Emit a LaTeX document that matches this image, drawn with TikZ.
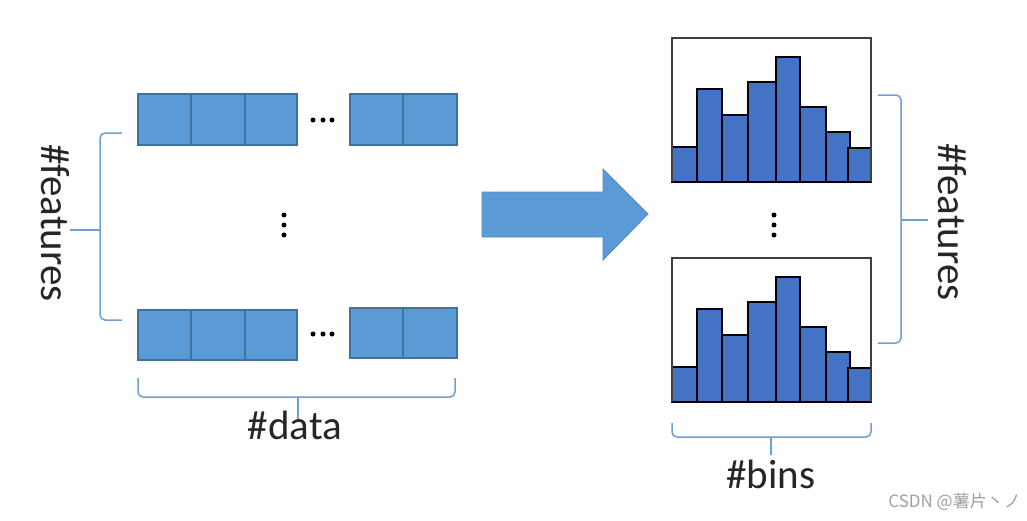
\documentclass[tikz,border=0pt]{standalone}
\usepackage{fontspec}
\setmainfont{Carlito}
\newfontfamily\cjkfont{Noto Sans CJK SC}
\definecolor{cellblue}{HTML}{5B9BD5}
\definecolor{celledge}{HTML}{41719C}
\definecolor{barblue}{HTML}{4472C4}
\definecolor{bracecol}{HTML}{6FA0D2}
\definecolor{wmgray}{HTML}{A0A0A0}
\tikzset{
  cellbox/.style={fill=cellblue, draw=celledge, line width=1.2pt},
  barbox/.style={fill=barblue, draw=black, line width=2.2pt},
  framebox/.style={draw=black!75, line width=1.6pt},
  bracket/.style={draw=bracecol, line width=1.5pt, rounded corners=5pt},
  dotmark/.style={fill=black, circle, inner sep=0pt, minimum size=5pt},
  bigtext/.style={font=\fontsize{41}{49}\selectfont, inner sep=0pt, text=black!85},
}
\begin{document}
\begin{tikzpicture}[x=1pt,y=-1pt]
\useasboundingbox (0,0) rectangle (1027,520);
\fill[white] (0,0) rectangle (1027,520);

% ---- data rows ----
\foreach \yt/\yb in {94/145, 310/360} {
  \foreach \xa/\xb in {138/191, 191/245, 245/297} {
    \draw[cellbox] (\xa,\yt) rectangle (\xb,\yb);
  }
}
\foreach \yt/\yb in {94/145, 308/358} {
  \foreach \xa/\xb in {350/403, 403/457} {
    \draw[cellbox] (\xa,\yt) rectangle (\xb,\yb);
  }
}
% horizontal dots
\foreach \yy in {120, 334} {
  \foreach \xx [count=\i] in {313, 323, 332} {
    \node[dotmark] (hd\yy\i) at (\xx,\yy) {};
  }
}
% vertical dots
\foreach \xx in {284, 774} {
  \foreach \yy [count=\i] in {215, 225, 235} {
    \node[dotmark] (vd\xx\i) at (\xx,\yy) {};
  }
}

% ---- left brace and label ----
\draw[bracket] (122,133) -| (100,230) |- (122,320);
\draw[bracket] (100,230) -- (70,230);
\node[bigtext, rotate=-90] (lfeat) at (55,223) {\#features};

% ---- data brace ----
\draw[bracket] (138,378) |- (298,397) -| (455,378);
\draw[bracket] (298,397) -- (298,422);
\node[bigtext, anchor=base] (ldata) at (295,439) {\#data};

% ---- big arrow ----
\draw[fill=cellblue, draw=cellblue!90!black, line width=0.8pt]
  (482,192) -- (603,192) -- (603,169) -- (648,214) -- (603,260) -- (603,237) -- (482,237) -- cycle;

% ---- histograms ----
\foreach \dy in {0, 220} {
  \draw[framebox] (672,38+\dy) rectangle (871,182+\dy);
  \foreach \xa/\xb/\tp in {672/697/147, 697/722/89, 722/748/115, 748/776/82, 776/800/57, 800/826/107, 826/850/132, 848/871/148} {
    \draw[barbox] (\xa,182+\dy) rectangle (\xb,\tp+\dy);
  }
  \draw[framebox] (672,38+\dy) -- (672,182+\dy) (871,38+\dy) -- (871,182+\dy);
}

% ---- right brace and label ----
\draw[bracket] (878,95) -| (901,220) |- (878,343);
\draw[bracket] (901,220) -- (928,220);
\node[bigtext, rotate=-90] (rfeat) at (952,222) {\#features};

% ---- bins brace ----
\draw[bracket] (672,423) |- (771,437) -| (871,423);
\draw[bracket] (771,437) -- (771,455);
\node[bigtext, anchor=base] (lbins) at (771,488) {\#bins};

% ---- watermark ----
\node[anchor=base east, text=wmgray, font=\cjkfont\fontsize{17}{20}\selectfont, inner sep=0pt] (wm) at (1021,507) {CSDN @薯片丶ノ};
\end{tikzpicture}
\end{document}
